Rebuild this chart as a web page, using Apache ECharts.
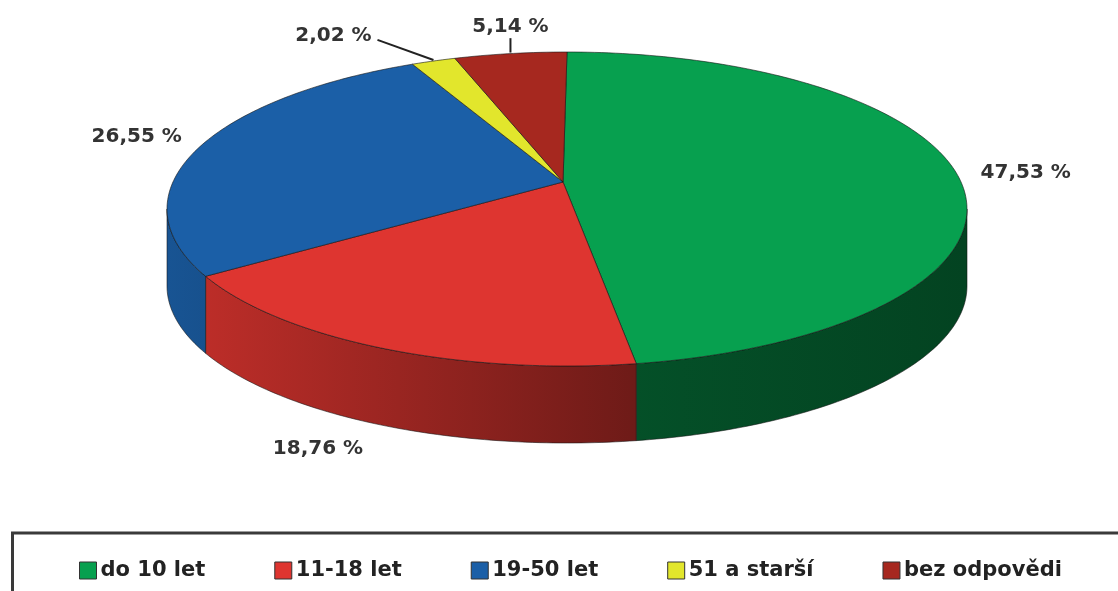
<!DOCTYPE html>
<html>
<head>
<meta charset="utf-8">
<script src="https://cdn.jsdelivr.net/npm/echarts@6/dist/echarts.min.js"></script>
<style>
  html, body { margin: 0; padding: 0; background: #fff; }
  #chart { width: 1118px; height: 591px; }
</style>
</head>
<body>
<div id="chart"></div>
<script>
// podíly věkových skupin (%)
const categories = ["do 10 let", "11-18 let", "19-50 let", "51 a starší", "bez odpovědi"];
const shares = [47.53, 18.76, 26.55, 2.02, 5.14];

// barvy výsečí
const colors = ["#07a04f", "#de3530", "#1b5fa7", "#e2e62c", "#a6281f"];

// geometrie "3D" koláče
const CX = 567, CY = 209, RX = 400, RY = 157, DEPTH = 77;
const APEX = [CX - 4, CY - 27];
const total = shares.reduce((a, b) => a + b, 0);
const rad = (d) => (d * Math.PI) / 180;

// perspektiva: přední část se roztáhne, zadní zúží
const warp = (deg) => deg - 7 * Math.sin(rad(deg));
const pt = (psi, dy = 0) => [CX + RX * Math.sin(rad(psi)), CY - RY * Math.cos(rad(psi)) + dy];

function arc(a, b, dy) {
  const n = Math.max(2, Math.ceil(Math.abs(b - a)));
  const out = [];
  for (let i = 0; i <= n; i++) out.push(pt(a + ((b - a) * i) / n, dy));
  return out;
}

function shade(hex, f) {
  const c = parseInt(hex.slice(1), 16);
  const r = Math.round(((c >> 16) & 255) * f);
  const g = Math.round(((c >> 8) & 255) * f);
  const b = Math.round((c & 255) * f);
  return "rgb(" + r + "," + g + "," + b + ")";
}

function renderSlice(params, api) {
  const idx = params.seriesIndex;
  const start = shares.slice(0, idx).reduce((a, b) => a + b, 0);
  const val = api.value(0);
  const a = warp((start / total) * 360);
  const b = warp(((start + val) / total) * 360);
  const base = colors[idx];
  const children = [];

  // boční stěna (jen viditelná přední polovina)
  const sa = Math.max(a, 90), sb = Math.min(b, 270);
  if (sb > sa) {
    const top = arc(sa, sb, 0);
    const bot = arc(sa, sb, DEPTH).reverse();
    children.push({
      type: "polygon",
      z2: 1,
      shape: { points: top.concat(bot) },
      style: {
        fill: new echarts.graphic.LinearGradient(CX - RX, 0, CX + RX, 0, [
          { offset: 0, color: shade(base, 0.88) },
          { offset: 0.58, color: shade(base, 0.5) },
          { offset: 1, color: shade(base, 0.42) }
        ], true),
        stroke: "rgba(20,20,20,0.7)",
        lineWidth: 0.8
      }
    });
  }

  // horní plocha výseče
  children.push({
    type: "polygon",
    z2: 5,
    shape: { points: [APEX].concat(arc(a, b, 0)) },
    style: { fill: base, stroke: "rgba(20,20,20,0.75)", lineWidth: 0.8, lineJoin: "round" }
  });

  // popisek
  const mid = warp(((start + val / 2) / total) * 360);
  const s = Math.sin(rad(mid)), c = Math.cos(rad(mid));
  const edge = pt(mid);
  const k = 1.17;
  let lx = CX + RX * k * s * (c < 0 ? 1.14 : 1);
  let ly = CY - RY * k * c + (c < 0 ? DEPTH : 0);
  const text = val.toFixed(2).replace(".", ",") + " %";
  if (val < 6) {
    lx = edge[0];
    let end = [edge[0], ly + 11];
    if (val < 3) {
      lx = edge[0] + (s < 0 ? -100 : 100);
      end = [lx + (s < 0 ? 44 : -44), ly + 4];
    }
    children.push({
      type: "polyline",
      z2: 8,
      shape: { points: [[edge[0], edge[1] - 1], end] },
      style: { stroke: "#222", lineWidth: 2, fill: null }
    });
  }
  children.push({
    type: "text",
    z2: 10,
    style: {
      text: text,
      x: lx,
      y: ly,
      align: "center",
      verticalAlign: "middle",
      font: "bold 20px 'DejaVu Sans'",
      fill: "#333"
    }
  });

  return { type: "group", children: children };
}

const chart = echarts.init(document.getElementById("chart"));
chart.setOption({
  animation: false,
  color: colors,
  legend: {
    left: 79,
    top: 560,
    padding: 0,
    itemGap: 69,
    itemWidth: 17,
    itemHeight: 17,
    icon: "rect",
    itemStyle: { borderColor: "#333", borderWidth: 1 },
    textStyle: { fontFamily: "DejaVu Sans", fontWeight: "bold", fontSize: 21, color: "#222", padding: [0, 0, 0, -1] },
    data: categories
  },
  graphic: [
    {
      type: "polyline",
      shape: { points: [[12.5, 591], [12.5, 533], [1118, 533]] },
      style: { stroke: "#3a3a3a", lineWidth: 3, fill: null }
    }
  ],
  series: categories.map((name, i) => ({
    type: "custom",
    name: name,
    coordinateSystem: "none",
    itemStyle: { color: colors[i] },
    renderItem: renderSlice,
    data: [[shares[i]]]
  }))
});
</script>
</body>
</html>
